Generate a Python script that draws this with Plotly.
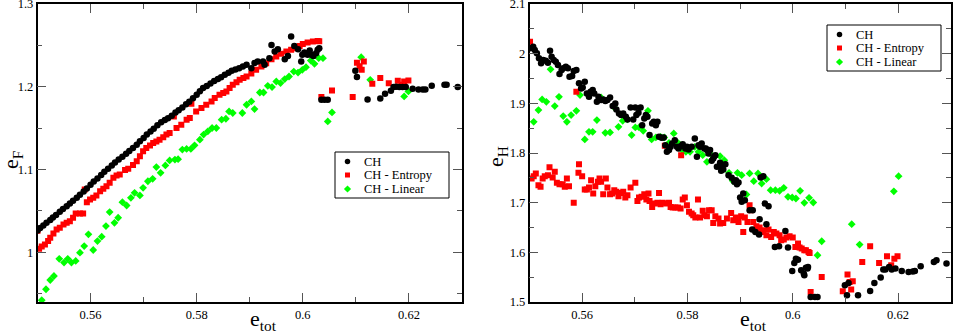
import plotly.graph_objects as go

# ---------------- Left panel (e_F vs e_tot) ----------------
f_ch_x = [0.5500,0.5505,0.5511,0.5517,0.5524,0.5529,0.5535,0.5542,0.5548,0.5555,0.5561,0.5567,0.5574,0.5580,0.5587,0.5593,
          0.5600,0.5606,0.5613,0.5620,0.5626,0.5633,0.5640,0.5646,0.5653,0.5660,0.5667,0.5673,0.5680,0.5687,0.5693,0.5700,
          0.5706,0.5713,0.5719,0.5726,0.5733,0.5740,0.5746,0.5753,0.5760,0.5766,0.5773,0.5780,0.5786,0.5793,0.5800,0.5806,
          0.5812,0.5819,0.5826,0.5833,0.5840,0.5846,0.5853,0.5860,0.5866,0.5873,0.5880,0.5887,0.5894,0.5903,0.5909,0.5915,
          0.5925,0.5928,0.5937,0.5941,0.5947,0.5953,0.5966,0.5972,0.5978,0.5984,0.5991,0.5997,0.5999,0.6003,0.6009,0.6013,
          0.6016,0.6020,0.6025,0.6028,0.6031,0.6035,0.6041,0.6047,0.6099,0.6102,0.6122,0.6146,0.6155,0.6166,0.6171,0.6176,
          0.6182,0.6188,0.6194,0.6207,0.6218,0.6226,0.6231,0.6243,0.6267,0.6271,0.6292]
f_ch_y = [1.0265,1.0295,1.0325,1.0357,1.0390,1.0420,1.0450,1.0490,1.0522,1.0558,1.0590,1.0622,1.0659,1.0695,1.0735,1.0772,
          1.0815,1.0855,1.0893,1.0935,1.0972,1.1010,1.1050,1.1085,1.1120,1.1155,1.1190,1.1225,1.1261,1.1300,1.1341,1.1380,
          1.1422,1.1460,1.1492,1.1535,1.1570,1.1600,1.1620,1.1650,1.1690,1.1715,1.1750,1.1790,1.1820,1.1860,1.1905,1.1945,
          1.1984,1.2010,1.2040,1.2070,1.2095,1.2115,1.2145,1.2170,1.2195,1.2210,1.2225,1.2245,1.2265,1.2225,1.2286,1.2305,
          1.2305,1.2265,1.2345,1.2506,1.2426,1.2454,1.2334,1.2373,1.2606,1.2494,1.2454,1.2305,1.2386,1.2413,1.2386,1.2438,
          1.2386,1.2373,1.2406,1.2446,1.2466,1.1843,1.1843,1.1843,1.2193,1.2117,1.1847,1.1859,1.1916,1.1952,1.1997,1.2000,
          1.1997,1.1997,1.1997,1.1976,1.1968,1.1968,1.1968,1.2012,1.2024,1.2024,1.1997]

f_ent_x = [0.5500,0.5503,0.5508,0.5514,0.5520,0.5524,0.5530,0.5536,0.5542,0.5549,0.5555,0.5561,0.5567,0.5572,0.5580,0.5586,
           0.5589,0.5593,0.5599,0.5605,0.5611,0.5618,0.5624,0.5630,0.5636,0.5643,0.5649,0.5655,0.5665,0.5671,0.5680,0.5687,
           0.5693,0.5699,0.5705,0.5712,0.5718,0.5724,0.5730,0.5737,0.5743,0.5749,0.5757,0.5762,0.5771,0.5781,0.5787,0.5790,
           0.5799,0.5809,0.5818,0.5828,0.5834,0.5843,0.5850,0.5856,0.5862,0.5868,0.5875,0.5881,0.5888,0.5894,0.5903,0.5912,
           0.5922,0.5931,0.5941,0.5950,0.5959,0.5969,0.5978,0.5988,0.5994,0.6000,0.6009,0.6019,0.6028,0.6031,0.6035,0.6055,
           0.6094,0.6102,0.6107,0.6111,0.6115,0.6131,0.6146,0.6162,0.6179,0.6186,0.6191,0.6199]
f_ent_y = [1.0260,1.0044,1.0069,1.0096,1.0136,1.0177,1.0229,1.0277,1.0297,1.0337,1.0357,1.0377,1.0418,1.0470,1.0470,1.0470,
           1.0759,1.0606,1.0639,1.0659,1.0687,1.0739,1.0767,1.0799,1.0840,1.0900,1.0928,1.0940,1.0995,1.1010,1.1055,1.1100,
           1.1160,1.1220,1.1261,1.1290,1.1321,1.1340,1.1361,1.1390,1.1422,1.1442,1.1642,1.1502,1.1542,1.1602,1.1623,1.1795,
           1.1702,1.1743,1.1783,1.1823,1.1864,1.1904,1.1925,1.1944,1.1985,1.2024,1.2055,1.2084,1.2105,1.2124,1.2160,1.2205,
           1.2245,1.2285,1.2334,1.2365,1.2398,1.2426,1.2446,1.2466,1.2494,1.2518,1.2534,1.2546,1.2554,1.2550,1.1876,1.1954,
           1.1876,1.2289,1.2249,1.2205,1.2305,1.2036,1.2105,1.2044,1.2072,1.2024,1.2064,1.2076]

f_lin_x = [0.5508,0.5516,0.5524,0.5531,0.5541,0.5550,0.5557,0.5564,0.5572,0.5580,0.5588,0.5596,0.5605,0.5613,0.5621,0.5629,
           0.5636,0.5645,0.5652,0.5660,0.5668,0.5676,0.5683,0.5693,0.5699,0.5708,0.5717,0.5724,0.5732,0.5741,0.5749,0.5759,
           0.5765,0.5773,0.5781,0.5789,0.5796,0.5806,0.5813,0.5821,0.5829,0.5837,0.5847,0.5855,0.5861,0.5868,0.5886,0.5894,
           0.5903,0.5909,0.5919,0.5926,0.5934,0.5942,0.5950,0.5958,0.5966,0.5974,0.5983,0.5991,0.5999,0.6006,0.6015,0.6022,
           0.6030,0.6038,0.6047,0.6055,0.6110,0.6127,0.6191,0.6199]
f_lin_y = [0.9422,0.9554,0.9666,0.9714,0.9922,0.9876,0.9922,0.9876,0.9896,0.9996,1.0076,1.0217,1.0028,1.0136,1.0189,1.0317,
           1.0486,1.0357,1.0418,1.0606,1.0566,1.0659,1.0719,1.0687,1.0779,1.0859,1.0888,1.1030,1.0960,1.1050,1.1110,1.1120,
           1.1125,1.1241,1.1249,1.1249,1.1293,1.1361,1.1422,1.1462,1.1502,1.1502,1.1602,1.1614,1.1702,1.1683,1.1683,1.1783,
           1.1823,1.1731,1.1931,1.1931,1.2012,1.1996,1.2064,1.2045,1.2093,1.2124,1.2184,1.2172,1.2205,1.2237,1.2317,1.2277,
           1.2345,1.2345,1.1582,1.1690,1.2358,1.2084,1.1884,1.1944]

# ---------------- Right panel (e_H vs e_tot) ----------------
h_ch_x = [0.5501,0.5507,0.5510,0.5514,0.5518,0.5522,0.5526,0.5531,0.5535,0.5539,0.5542,0.5546,0.5550,0.5554,0.5557,0.5561,
          0.5564,0.5569,0.5573,0.5576,0.5581,0.5584,0.5589,0.5594,0.5598,0.5601,0.5605,0.5609,0.5613,0.5616,0.5620,0.5623,
          0.5628,0.5631,0.5636,0.5640,0.5644,0.5648,0.5653,0.5658,0.5663,0.5665,0.5670,0.5674,0.5678,0.5683,0.5686,0.5692,
          0.5697,0.5701,0.5703,0.5707,0.5711,0.5714,0.5718,0.5721,0.5724,0.5728,0.5733,0.5736,0.5740,0.5743,0.5746,0.5751,
          0.5755,0.5758,0.5761,0.5765,0.5768,0.5771,0.5776,0.5780,0.5783,0.5787,0.5791,0.5796,0.5799,0.5802,0.5808,0.5814,
          0.5818,0.5821,0.5824,0.5827,0.5832,0.5835,0.5837,0.5840,0.5843,0.5846,0.5849,0.5851,0.5853,0.5856,0.5862,0.5864,
          0.5866,0.5868,0.5872,0.5878,0.5884,0.5889,0.5892,0.5894,0.5897,0.5900,0.5903,0.5906,0.5909,0.5918,0.5923,0.5924,
          0.5929,0.5936,0.5937,0.5939,0.5944,0.5947,0.5950,0.5954,0.5966,0.5974,0.5986,0.5991,0.5999,0.6003,0.6006,0.6010,
          0.6016,0.6021,0.6022,0.6025,0.6028,0.6029,0.6034,0.6042,0.6047,0.6099,0.6103,0.6106,0.6124,0.6147,0.6155,0.6167,
          0.6172,0.6176,0.6183,0.6188,0.6195,0.6207,0.6220,0.6228,0.6232,0.6243,0.6268,0.6273,0.6292]
h_ch_y = [2.0107,2.0140,2.0073,2.0006,1.9906,1.9805,1.9871,1.9858,1.9817,2.0059,1.9938,1.9871,1.9838,1.9771,1.9589,1.9670,
          1.9704,1.9737,1.9704,1.9535,1.9549,1.9650,1.9670,1.9402,1.9301,1.9321,1.9434,1.9200,1.9132,1.9233,1.9267,1.9200,
          1.9031,1.9132,1.9065,1.9079,1.9045,1.9065,1.9119,1.8944,1.8999,1.8878,1.8797,1.8763,1.8797,1.8729,1.8676,1.8918,
          1.8676,1.8918,1.8763,1.8810,1.8918,1.8561,1.8696,1.8763,1.8729,1.8360,1.8596,1.8628,1.8561,1.8628,1.8326,1.8306,
          1.8313,1.8158,1.8023,1.8058,1.8124,1.8193,1.8259,1.8124,1.8092,1.8138,1.8178,1.8092,1.8124,1.8072,1.8124,1.8293,
          1.7923,1.8158,1.8124,1.8193,1.8092,1.8092,1.8058,1.7991,1.8058,1.7842,1.7890,1.7937,1.7957,1.7722,1.7802,1.7641,
          1.7721,1.7668,1.7776,1.7554,1.7500,1.7419,1.7453,1.7372,1.7406,1.7104,1.7016,1.7185,1.7050,1.6848,1.6459,1.6848,
          1.6411,1.6358,1.6667,1.7507,1.7534,1.6983,1.6566,1.6929,1.6109,1.6122,1.6431,1.6095,1.5623,1.5785,1.5873,1.5852,
          1.5637,1.5570,1.5539,1.5691,1.5673,1.5706,1.5102,1.5102,1.5102,1.5337,1.5135,1.5385,1.5135,1.5222,1.5385,1.5492,
          1.5653,1.5653,1.5706,1.5653,1.5673,1.5626,1.5606,1.5613,1.5626,1.5720,1.5807,1.5841,1.5774]

h_ent_x = [0.5501,0.5504,0.5508,0.5512,0.5517,0.5521,0.5525,0.5529,0.5535,0.5538,0.5544,0.5548,0.5552,0.5557,0.5563,0.5567,
           0.5571,0.5575,0.5584,0.5589,0.5593,0.5594,0.5600,0.5605,0.5609,0.5613,0.5617,0.5621,0.5625,0.5630,0.5633,0.5636,
           0.5640,0.5645,0.5648,0.5653,0.5657,0.5661,0.5665,0.5669,0.5674,0.5678,0.5682,0.5686,0.5692,0.5701,0.5705,0.5708,
           0.5713,0.5718,0.5722,0.5726,0.5728,0.5733,0.5738,0.5743,0.5746,0.5749,0.5753,0.5757,0.5760,0.5765,0.5768,0.5772,
           0.5777,0.5782,0.5787,0.5788,0.5791,0.5795,0.5799,0.5803,0.5808,0.5811,0.5815,0.5820,0.5824,0.5829,0.5832,0.5837,
           0.5841,0.5846,0.5849,0.5853,0.5859,0.5862,0.5868,0.5875,0.5883,0.5887,0.5892,0.5897,0.5902,0.5906,0.5909,0.5914,
           0.5918,0.5920,0.5925,0.5931,0.5934,0.5937,0.5941,0.5944,0.5950,0.5954,0.5959,0.5964,0.5969,0.5975,0.5978,0.5983,
           0.5988,0.5994,0.6000,0.6005,0.6010,0.6013,0.6017,0.6022,0.6025,0.6030,0.6032,0.6034,0.6055,0.6095,0.6104,0.6108,
           0.6111,0.6114,0.6132,0.6147,0.6164,0.6179,0.6187,0.6193,0.6199]
h_ent_y = [2.0240,1.7487,1.7534,1.7588,1.7352,1.7318,1.7487,1.7534,1.7554,1.7715,1.7507,1.7621,1.7399,1.7372,1.7372,1.7318,
           1.7487,1.7332,1.6996,1.9233,1.7601,1.7776,1.7534,1.7265,1.7265,1.7305,1.7453,1.7184,1.7332,1.7419,1.7487,1.7419,
           1.7171,1.7487,1.7305,1.7171,1.7184,1.7251,1.7218,1.7131,1.7197,1.7218,1.7104,1.7151,1.7305,1.7399,1.7036,1.7104,
           1.7117,1.7171,1.7064,1.7184,1.7036,1.6915,1.6983,1.6996,1.7197,1.6969,1.6996,1.8145,1.6983,1.6996,1.6915,1.6902,
           1.6902,1.6902,1.6882,1.7957,1.7064,1.7104,1.6949,1.6815,1.6781,1.6748,1.6701,1.7064,1.6701,1.6835,1.6748,1.6728,
           1.6848,1.6848,1.6593,1.6728,1.6681,1.6580,1.6593,1.6681,1.6794,1.6647,1.6701,1.6613,1.6728,1.6411,1.6701,1.6613,
           1.6949,1.6848,1.6613,1.6526,1.6479,1.6499,1.6411,1.6445,1.6345,1.6459,1.6311,1.6411,1.6378,1.6345,1.6244,1.6258,
           1.6298,1.6324,1.6298,1.6109,1.6177,1.6095,1.6075,1.6042,1.6042,1.6008,1.5988,1.5202,1.5504,1.5216,1.5552,1.5404,
           1.5250,1.5418,1.5807,1.6122,1.5787,1.5921,1.5740,1.5873,1.5921]

h_lin_x = [0.5508,0.5517,0.5524,0.5532,0.5540,0.5548,0.5556,0.5564,0.5571,0.5579,0.5589,0.5596,0.5605,0.5613,0.5620,0.5628,
           0.5636,0.5644,0.5653,0.5661,0.5669,0.5677,0.5686,0.5694,0.5701,0.5708,0.5716,0.5725,0.5732,0.5740,0.5749,0.5756,
           0.5765,0.5774,0.5782,0.5790,0.5797,0.5805,0.5814,0.5821,0.5829,0.5837,0.5846,0.5862,0.5870,0.5879,0.5886,0.5895,
           0.5903,0.5912,0.5918,0.5926,0.5934,0.5941,0.5950,0.5958,0.5967,0.5975,0.5983,0.5991,0.5999,0.6006,0.6014,0.6022,
           0.6031,0.6039,0.6047,0.6055,0.6112,0.6127,0.6192,0.6201]
h_lin_y = [1.8628,1.8864,1.9079,1.9031,1.9684,1.8944,1.9132,1.8743,1.8628,1.8763,1.8850,1.9166,1.8273,1.8427,1.8427,1.8662,
           1.9119,1.8406,1.8414,1.8918,1.8527,1.8648,1.8676,1.8360,1.8515,1.8515,1.8447,1.8850,1.8273,1.8313,1.8326,1.8313,
           1.8205,1.8394,1.8205,1.8058,1.8023,1.8023,1.8124,1.8023,1.7957,1.7822,1.7957,1.7937,1.7856,1.7600,1.7439,1.7600,
           1.7554,1.7164,1.7588,1.7433,1.7588,1.7386,1.7473,1.7251,1.7251,1.7238,1.7298,1.7117,1.7104,1.7084,1.7238,1.6996,
           1.7097,1.7003,1.5941,1.6223,1.6566,1.6157,1.7228,1.7534]

series_names = ["CH", "CH - Entropy", "CH - Linear"]
colors = ["#000000", "#ff0000", "#00ff00"]
symbols = ["circle", "square", "diamond"]
sizes = [6.5, 6, 6]
legend_sizes = [5.5, 5, 5.5]

W, H = 955, 333
FONT = "Liberation Serif"

fig = go.Figure()
left = [(f_ch_x, f_ch_y), (f_ent_x, f_ent_y), (f_lin_x, f_lin_y)]
right = [(h_ch_x, h_ch_y), (h_ent_x, h_ent_y), (h_lin_x, h_lin_y)]
order = [2, 1, 0]  # green first, black on top
for i in order:
    x, y = left[i]
    fig.add_trace(go.Scatter(x=x, y=y, mode="markers", name=series_names[i], showlegend=False,
                             marker=dict(color=colors[i], symbol=symbols[i], size=sizes[i], line=dict(width=0)),
                             xaxis="x", yaxis="y"))
for i in order:
    x, y = right[i]
    fig.add_trace(go.Scatter(x=x, y=y, mode="markers", name=series_names[i], showlegend=False,
                             marker=dict(color=colors[i], symbol=symbols[i], size=sizes[i], line=dict(width=0)),
                             xaxis="x2", yaxis="y2"))

# ---- legend boxes drawn in pixel space (overlay axes x3/y3) ----
legend_boxes = [(335, 152, 449, 198), (827, 25, 941, 71)]
entry_dy = [9.5, 23, 37]
shapes = []
annotations = []
for (x0, y0, x1, y1) in legend_boxes:
    shapes.append(dict(type="rect", xref="paper", yref="paper", x0=x0 / W, x1=x1 / W, y0=1 - y0 / H, y1=1 - y1 / H,
                       line=dict(color="black", width=1), fillcolor="white", layer="below"))
    for i in range(3):
        fig.add_trace(go.Scatter(x=[x0 + 12.5], y=[y0 + entry_dy[i]], mode="markers", showlegend=False,
                                 hoverinfo="skip",
                                 marker=dict(color=colors[i], symbol=symbols[i], size=legend_sizes[i], line=dict(width=0)),
                                 xaxis="x3", yaxis="y3"))
        annotations.append(dict(text=series_names[i], x=(x0 + 27) / W, y=1 - (y0 + entry_dy[i]) / H,
                                xref="paper", yref="paper", xanchor="left", yanchor="middle", showarrow=False,
                                font=dict(family=FONT, size=12.5, color="black")))

title_font = dict(family=FONT, size=22, color="black")
annotations += [
    dict(text="e<sub>tot</sub>", x=263 / W, y=1 - 320 / H, xref="paper", yref="paper", showarrow=False,
         xanchor="center", yanchor="middle", font=title_font),
    dict(text="e<sub>tot</sub>", x=753 / W, y=1 - 320 / H, xref="paper", yref="paper", showarrow=False,
         xanchor="center", yanchor="middle", font=title_font),
    dict(text="e<sub>F</sub>", x=12 / W, y=1 - 160 / H, xref="paper", yref="paper", showarrow=False, textangle=-90,
         xanchor="center", yanchor="middle", font=title_font),
    dict(text="e<sub>H</sub>", x=497 / W, y=1 - 157 / H, xref="paper", yref="paper", showarrow=False, textangle=-90,
         xanchor="center", yanchor="middle", font=title_font),
]

ydom = [31 / H, 1 - 4 / H]
def xax(dom, anchor):
    return dict(domain=dom, range=[0.55, 0.63], showgrid=False, zeroline=False, showline=True, linecolor="black",
                linewidth=1.5, mirror="ticks", ticks="inside", ticklen=9, tickwidth=1, tickcolor="#555",
                tick0=0.56, dtick=0.02, tickfont=dict(family=FONT, size=12.5, color="black"),
                minor=dict(ticks="inside", ticklen=5, tickwidth=1, tickcolor="#555", dtick=0.01, tick0=0.55),
                ticklabeloverflow="allow", automargin=False, fixedrange=True, anchor=anchor)
def yax(rng, minor0, anchor):
    return dict(domain=ydom, range=rng, showgrid=False, zeroline=False, showline=True, linecolor="black",
                linewidth=1.5, mirror="ticks", ticks="inside", ticklen=9, tickwidth=1, tickcolor="#555",
                tick0=1.0, dtick=0.1, tickfont=dict(family=FONT, size=12.5, color="black"),
                minor=dict(ticks="inside", ticklen=5, tickwidth=1, tickcolor="#555", dtick=0.05, tick0=minor0),
                ticklabeloverflow="allow", automargin=False, anchor=anchor, fixedrange=True)

fig.update_layout(
    width=W, height=H, margin=dict(l=0, r=0, t=0, b=0), paper_bgcolor="white", plot_bgcolor="rgba(0,0,0,0)",
    xaxis=xax([37.5 / W, 462 / W], "y"),
    yaxis=yax([0.94, 1.3], 0.95, "x"),
    xaxis2=xax([529.5 / W, 950.7 / W], "y2"),
    yaxis2=yax([1.5, 2.1], 1.55, "x2"),
    xaxis3=dict(domain=[0, 1], range=[0, W], visible=False, anchor="y3", fixedrange=True),
    yaxis3=dict(domain=[0, 1], range=[H, 0], visible=False, anchor="x3", fixedrange=True),
    showlegend=False,
    shapes=shapes,
    annotations=annotations,
)

fig.write_html("out.html", config={"displayModeBar": False},
               post_script="document.body.style.margin='0';document.body.style.overflow='hidden';")
